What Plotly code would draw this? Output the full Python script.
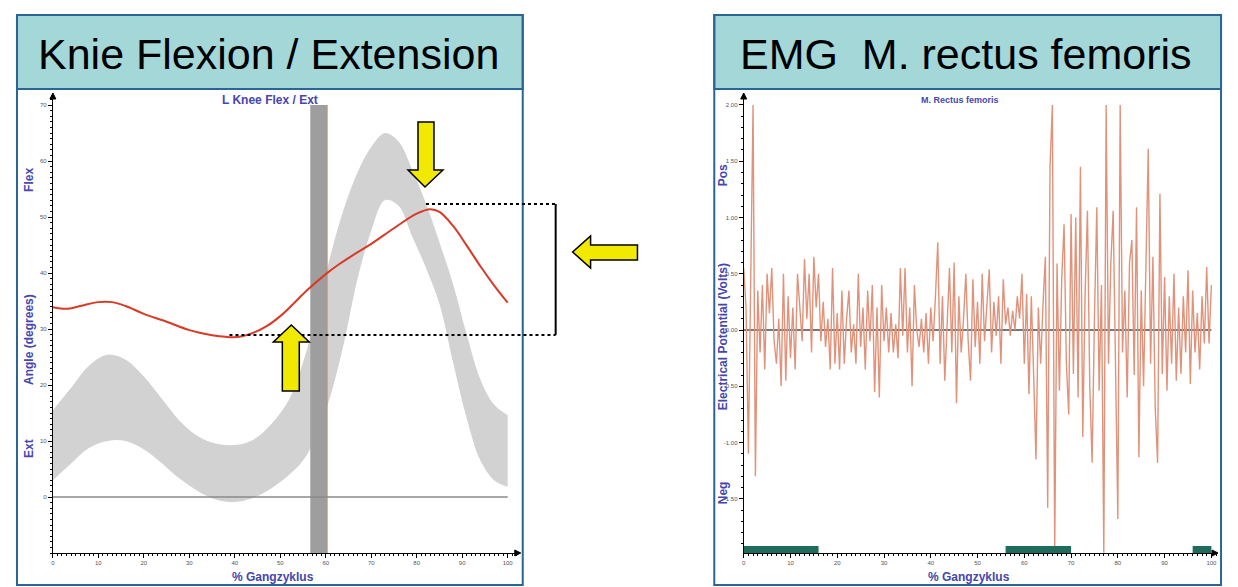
import plotly.graph_objects as go

# The page body has an 8px margin, so the figure is drawn 8px smaller and all
# reference pixel positions are shifted by that offset.
OFF = 8
W, H = 1238 - OFF, 587 - OFF

# ---------------- data: knee flexion / extension ----------------
knee_pct = [0, 3, 6, 10, 13, 16, 20, 25, 30, 35, 38, 41, 44, 47, 50, 53, 56, 60, 63, 66,
            70, 75, 80, 83, 85, 88, 91, 94, 97, 100]
knee_deg = [33.9, 33.6, 34.1, 34.8, 34.8, 34.1, 32.7, 31.3, 29.8, 28.9, 28.6, 28.6, 29.3, 30.5,
            32.3, 34.6, 37.0, 39.8, 41.6, 43.2, 45.2, 48.0, 50.6, 51.4, 50.9, 48.4, 44.9, 41.2,
            37.8, 34.7]

band_pct = [0, 4, 8, 12, 16, 20, 24, 28, 32, 36, 40, 44, 48, 52, 55, 58, 61, 64, 67, 70,
            73, 76, 79, 82, 85, 88, 91, 94, 97, 100]
band_upper = [15.5, 19.5, 23.5, 25.4, 24.5, 21.5, 17.5, 13.5, 10.8, 9.5, 9.3, 10.2, 13.0, 17.5,
              24, 33, 43, 51.5, 58, 62.5, 65, 63.5, 58.5, 52.5, 45.5, 38, 29, 21, 16.5, 14.6]
band_lower = [3, 6, 8.8, 10, 10, 8.5, 6, 3.2, 1, -0.5, -0.9, -0.2, 1.5, 4, 6.5, 11, 18, 27.5,
              39, 47.5, 53, 52, 46.5, 41, 34.5, 24, 14, 6.5, 3, 1.8]

toe_off = [56.6, 60.3]          # shaded toe-off zone (% gait cycle)
knee_yticks = [0, 10, 20, 30, 40, 50, 60, 70]

# ---------------- data: EMG rectus femoris (0.5 % steps) ----------------
emg_val = [
    0.55, 0.2, -1.1, 0.3, 2.0, -1.3, 0.35, -0.2, 0.4, -0.35, 0.5,          # 0 - 5
    0.15, 0.55, -0.1, -0.3, 0.1, -0.5, 0.5, -0.45, 0.3, -0.25,             # 5.5 - 10
    0.2, -0.35, 0.5, 0.15, -0.1, 0.63, 0.1, 0.5, -0.2, 0.65,               # 10.5 - 15
    0.2, 0.5, -0.1, 0.25, -0.15, 0.1, -0.35, 0.55, -0.3, 0.15,             # 15.5 - 20
    -0.35, 0.35, -0.3, 0.1, 0.35, -0.2, 0.05, -0.3, 0.5, -0.15,            # 20.5 - 25
    0.2, -0.35, 0.35, -0.1, 0.4, -0.55, 0.2, -0.6, 0.4, -0.1,              # 25.5 - 30
    0.2, -0.2, 0.15, -0.2, 0.05, -0.25, 0.55, -0.05, 0.55, -0.2,           # 30.5 - 35
    0.2, -0.5, 0.4, 0.0, -0.15, 0.1, -0.2, 0.15, -0.3, 0.2,                # 35.5 - 40
    -0.1, 0.3, 0.78, -0.3, 0.3, -0.45, 0.1, 0.55, -0.2, 0.6,               # 40.5 - 45
    -0.65, 0.3, -0.2, 0.1, 0.5, -0.1, -0.45, 0.45, -0.15, 0.25,            # 45.5 - 50
    -0.3, 0.5, -0.1, 0.2, 0.54, -0.2, 0.25, -0.05, 0.3, -0.3,              # 50.5 - 55
    0.45, 0.05, 0.2, -0.05, 0.17, 0.0, 0.3, 0.1, 0.5, -0.3,                # 55.5 - 60
    0.32, -0.57, 0.3, -0.4, -1.15, 0.2, -0.3, 0.23, 0.65, -1.58,           # 60.5 - 65
    1.45, 2.0, -1.98, 0.59, -0.54, 0.45, 0.94, -0.3, -0.75, 1.03,          # 65.5 - 70
    -0.39, 1.0, -0.6, 1.45, -0.95, 0.32, 1.06, -0.5, -1.18, 0.11,          # 70.5 - 75
    1.09, -0.54, 0.4, -1.98, 2.0, -0.3, 0.59, 1.06, -0.45, -1.68,          # 75.5 - 80
    2.0, -0.2, 0.35, -0.6, 0.6, 0.8, -0.4, 1.09, -1.13, 0.35,              # 80.5 - 85
    -0.5, 0.7, 1.61, -0.3, 0.65, -0.7, -1.18, 1.21, -0.39, 0.47,           # 85.5 - 90
    -0.54, 0.3, -0.3, 0.5, -0.45, 0.2, -0.39, 0.3, -0.2, 0.53,             # 90.5 - 95
    -0.48, 0.35, -0.2, 0.15, -0.35, 0.3, -0.12, 0.56, -0.12, 0.4,          # 95.5 - 100
]
emg_pct = [i * 0.5 for i in range(len(emg_val))]

stance_start = [0, 56, 96]       # EMG on/off bars along the time axis
stance_end = [16, 70, 100]
emg_yticks = [-1.5, -1.0, -0.5, 0.0, 0.5, 1.0, 1.5, 2.0]
emg_yticklabels = ["-1.50", "-1.00", "-0.50", "0.00", "0.50", "1.00", "1.50", "2.00"]
x_ticks = [0, 10, 20, 30, 40, 50, 60, 70, 80, 90, 100]

# ---------------- helpers (reference pixel -> paper) ----------------
def px(x):
    return (x - OFF) / W

def py(y):
    return 1 - (y - OFF) / H

def path(points):
    return "M " + " L ".join(f"{px(x):.5f},{py(y):.5f}" for x, y in points) + " Z"

BLUE_TXT = "#4646ad"
BORDER = "#2b6496"
FONT = "Liberation Sans, Arial, sans-serif"

fig = go.Figure()

# --- left chart traces ---
fig.add_trace(go.Scatter(x=band_pct, y=band_lower, mode="lines", line=dict(width=0, shape="spline"),
                         hoverinfo="skip", showlegend=False, xaxis="x", yaxis="y"))
fig.add_trace(go.Scatter(x=band_pct, y=band_upper, mode="lines", line=dict(width=0, shape="spline"),
                         fill="tonexty", fillcolor="#d2d2d2", hoverinfo="skip", showlegend=False,
                         xaxis="x", yaxis="y"))
fig.add_trace(go.Scatter(x=[toe_off[0], toe_off[1], toe_off[1], toe_off[0]],
                         y=[-10, -10, 70, 70], fill="toself", fillcolor="#9e9e9e",
                         line=dict(width=0), mode="lines", showlegend=False, xaxis="x", yaxis="y"))
fig.add_trace(go.Scatter(x=[toe_off[1], toe_off[1]], y=[-10, 70], mode="lines",
                         line=dict(color="#c98a7c", width=1), showlegend=False, xaxis="x", yaxis="y"))
fig.add_trace(go.Scatter(x=[0, 100], y=[0, 0], mode="lines", line=dict(color="#8a8a8a", width=1.5),
                         showlegend=False, xaxis="x", yaxis="y"))
fig.add_trace(go.Scatter(x=knee_pct, y=knee_deg, mode="lines",
                         line=dict(color="#d83a26", width=2, shape="spline"),
                         showlegend=False, xaxis="x", yaxis="y"))

# --- right chart traces ---
fig.add_trace(go.Scatter(x=[0, 100], y=[0, 0], mode="lines", line=dict(color="#4a4a4a", width=1.5),
                         showlegend=False, xaxis="x2", yaxis="y2"))
fig.add_trace(go.Scatter(x=emg_pct, y=emg_val, mode="lines", line=dict(color="#e0937a", width=1.4),
                         showlegend=False, xaxis="x2", yaxis="y2"))

shapes = []
for s0, s1 in zip(stance_start, stance_end):
    shapes.append(dict(type="rect", xref="x2", yref="y2", x0=s0, x1=s1, y0=-1.982, y1=-1.92,
                       fillcolor="#1f6b5c", line=dict(width=0), layer="above"))

# panels
for x0, x1 in [(15, 522), (714, 1222)]:
    shapes.append(dict(type="rect", xref="paper", yref="paper", x0=px(x0), x1=px(x1),
                       y0=py(89), y1=py(15), fillcolor="#a3d7d8", line=dict(color=BORDER, width=2)))
    shapes.append(dict(type="rect", xref="paper", yref="paper", x0=px(x0), x1=px(x1),
                       y0=py(585), y1=py(15), line=dict(color=BORDER, width=2)))

# axis arrow heads
for (ax, ay_top, ax_end, ay_axis) in [(51, 93, 520, 553), (743.5, 93, 1219, 553)]:
    shapes.append(dict(type="path", xref="paper", yref="paper",
                       path=path([(ax - 3, ay_top + 6), (ax + 3, ay_top + 6), (ax, ay_top)]),
                       fillcolor="black", line=dict(color="black", width=1)))
    shapes.append(dict(type="path", xref="paper", yref="paper",
                       path=path([(ax_end - 6, ay_axis - 3), (ax_end - 6, ay_axis + 3), (ax_end, ay_axis)]),
                       fillcolor="black", line=dict(color="black", width=1)))

# bracket (dotted lines + vertical)
shapes.append(dict(type="line", xref="paper", yref="paper", x0=px(425), x1=px(555), y0=py(204), y1=py(204),
                   line=dict(color="black", width=2, dash="dot")))
shapes.append(dict(type="line", xref="paper", yref="paper", x0=px(228), x1=px(555), y0=py(335), y1=py(335),
                   line=dict(color="black", width=2, dash="dot")))
shapes.append(dict(type="line", xref="paper", yref="paper", x0=px(555), x1=px(555), y0=py(204), y1=py(335),
                   line=dict(color="black", width=2)))

# yellow arrows
YEL = "#f2e900"
arrows = [
    [(417, 122), (433, 122), (433, 170), (442, 170), (424, 187), (407, 170), (417, 170)],
    [(281, 391), (298, 391), (298, 342), (308, 342), (290, 325), (272, 342), (281, 342)],
    [(637, 245), (590, 245), (590, 236), (572, 252), (590, 268), (590, 260), (637, 260)],
]
for pts in arrows:
    shapes.append(dict(type="path", xref="paper", yref="paper", path=path(pts),
                       fillcolor=YEL, line=dict(color="black", width=1.5)))

annotations = []
def ann(text, x, y, size, color="black", bold=False, angle=0):
    t = f"<b>{text}</b>" if bold else text
    annotations.append(dict(text=t, x=px(x), y=py(y), xref="paper", yref="paper", showarrow=False,
                            xanchor="center", yanchor="middle", textangle=angle,
                            font=dict(size=size, color=color, family=FONT)))

ann("Knie Flexion / Extension", 267, 54, 43)
ann("EMG\u00a0 M. rectus femoris", 966, 54, 43)
ann("L Knee Flex / Ext", 269, 100, 12, BLUE_TXT, bold=True)
ann("M. Rectus femoris", 960, 100, 9, BLUE_TXT, bold=True)
ann("% Gangzyklus", 272, 577, 12, BLUE_TXT, bold=True)
ann("% Gangzyklus", 969, 577, 12, BLUE_TXT, bold=True)
ann("Flex", 27, 180, 12, BLUE_TXT, bold=True, angle=-90)
ann("Angle (degrees)", 27, 339, 12, BLUE_TXT, bold=True, angle=-90)
ann("Ext", 27, 448, 12, BLUE_TXT, bold=True, angle=-90)
ann("Pos", 723, 175, 12, BLUE_TXT, bold=True, angle=-90)
ann("Electrical Potential (Volts)", 723, 337, 12, BLUE_TXT, bold=True, angle=-90)
ann("Neg", 723, 493, 12, BLUE_TXT, bold=True, angle=-90)

tickfont = dict(size=6, color="#555555", family=FONT)
common_axis = dict(showline=True, linecolor="black", linewidth=1, ticks="outside", ticklen=4,
                   tickcolor="black", showgrid=False, zeroline=False, tickfont=tickfont, fixedrange=True)

fig.update_layout(
    width=W, height=H, margin=dict(l=0, r=0, t=0, b=0),
    paper_bgcolor="white", plot_bgcolor="white", showlegend=False,
    xaxis=dict(domain=[px(51), px(516)], range=[0, 102], anchor="y", tickvals=x_ticks,
               minor=dict(dtick=1, ticklen=2, ticks="outside", tickcolor="black"), **common_axis),
    yaxis=dict(domain=[py(553), py(97)], range=[-10, 71.43], anchor="x", tickvals=knee_yticks,
               minor=dict(dtick=1, ticklen=2, ticks="outside", tickcolor="black"), **common_axis),
    xaxis2=dict(domain=[px(743.5), px(1217)], range=[0, 101], anchor="y2", tickvals=x_ticks,
                minor=dict(dtick=1, ticklen=2, ticks="outside", tickcolor="black"), **common_axis),
    yaxis2=dict(domain=[py(553), py(97)], range=[-1.982, 2.071], anchor="x2", tickvals=emg_yticks,
                ticktext=emg_yticklabels,
                minor=dict(dtick=0.1, ticklen=2, ticks="outside", tickcolor="black"), **common_axis),
    shapes=shapes, annotations=annotations,
)

fig.write_html("out.html")
